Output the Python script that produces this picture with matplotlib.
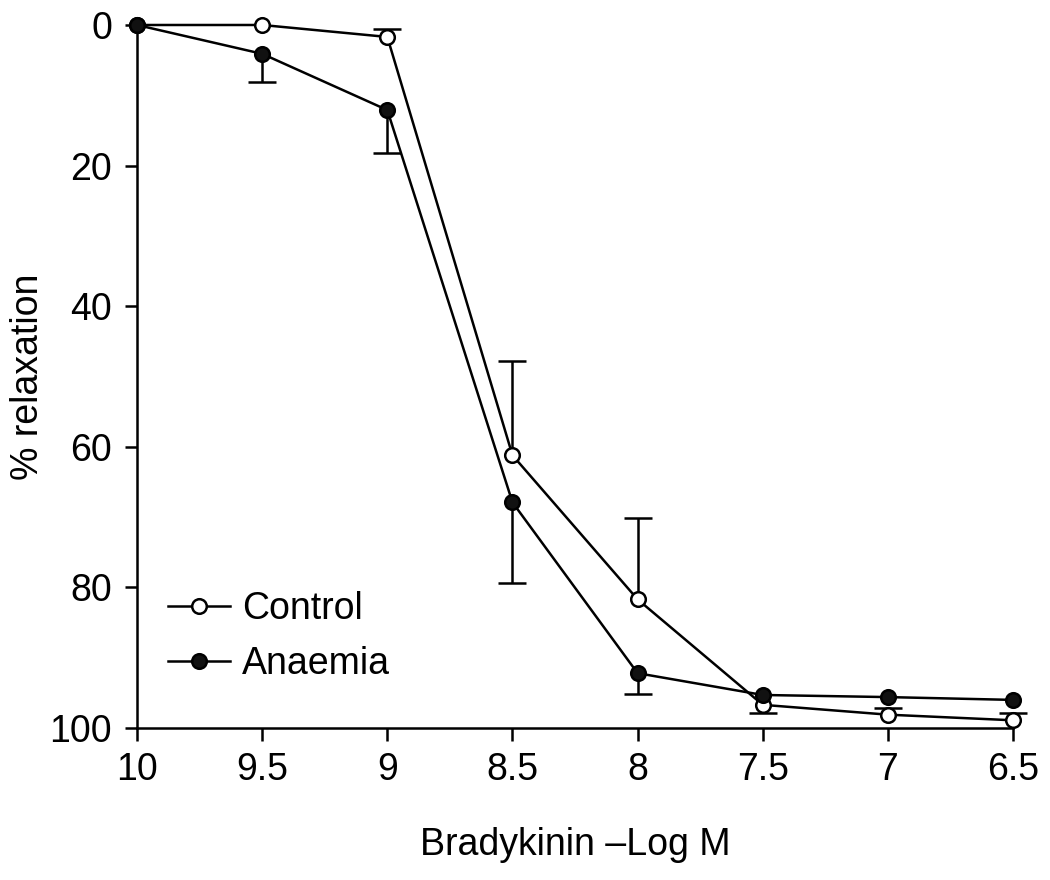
import matplotlib
matplotlib.use("Agg")
import matplotlib.pyplot as plt
import numpy as np

plt.rcParams['font.family'] = ['Liberation Sans', 'DejaVu Sans']

# -log M bradykinin concentrations
log_conc = [10, 9.5, 9, 8.5, 8, 7.5, 7, 6.5]
tick_labels = ['10', '9.5', '9', '8.5', '8', '7.5', '7', '6.5']

# % relaxation
control = [0, 0, 1.7, 61.2, 81.7, 96.7, 98.1, 98.9]
anaemia = [0, 4.1, 12.1, 67.9, 92.2, 95.3, 95.6, 96.0]

# signed error (negative = drawn towards 0), 0 = no bar visible
control_err = [0, 0, -1.2, -13.4, -11.6, 1.2, -0.9, -1.1]
anaemia_err = [0, 4.0, 6.1, 11.5, 3.0, 0, 0, 0]

fig = plt.figure(figsize=(10.5, 8.8), dpi=100)
ax = fig.add_axes([0.1305, 0.1727, 0.8343, 0.7989])

fs = 27
lw = 1.8


def draw(x, y, err, face, label):
    x = np.array(x)
    y = np.array(y)
    err = np.array(err)
    m = err != 0
    end = y + err
    ax.vlines(x[m], y[m], end[m], color='black', lw=lw, zorder=2, clip_on=False)
    ax.plot(x[m], end[m], ls='none', marker='_', ms=20, mew=lw, color='black',
            zorder=2, clip_on=False)
    ax.plot(x, y, color='black', lw=lw, marker='o', ms=10.5, mfc=face, mec='black',
            mew=lw, label=label, zorder=3, clip_on=False)


draw(log_conc, control, control_err, 'white', 'Control')
draw(log_conc, anaemia, anaemia_err, '#111111', 'Anaemia')

ax.set_xlim(10, 6.5)
ax.set_ylim(100, 0)
ax.set_xticks(log_conc)
ax.set_xticklabels(tick_labels)
ax.set_yticks([0, 20, 40, 60, 80, 100])

for s in ['top', 'right']:
    ax.spines[s].set_visible(False)
for s in ['left', 'bottom']:
    ax.spines[s].set_linewidth(lw)

ax.tick_params(axis='both', direction='out', length=9, width=lw, labelsize=fs)
ax.tick_params(axis='y', pad=9)
ax.tick_params(axis='x', pad=8)

ax.set_xlabel('Bradykinin \u2013Log M', fontsize=fs, va='center')
ax.xaxis.set_label_coords(0.5, -0.166)
ax.set_ylabel('% relaxation', fontsize=fs, va='center')
ax.yaxis.set_label_coords(-0.125, 0.5)

ax.legend(loc='upper left', bbox_to_anchor=(0.018, 0.216), frameon=False, fontsize=fs,
          handlelength=1.65, handletextpad=0.32, labelspacing=0.5, borderaxespad=0)

fig.savefig('out.png', dpi=100)
